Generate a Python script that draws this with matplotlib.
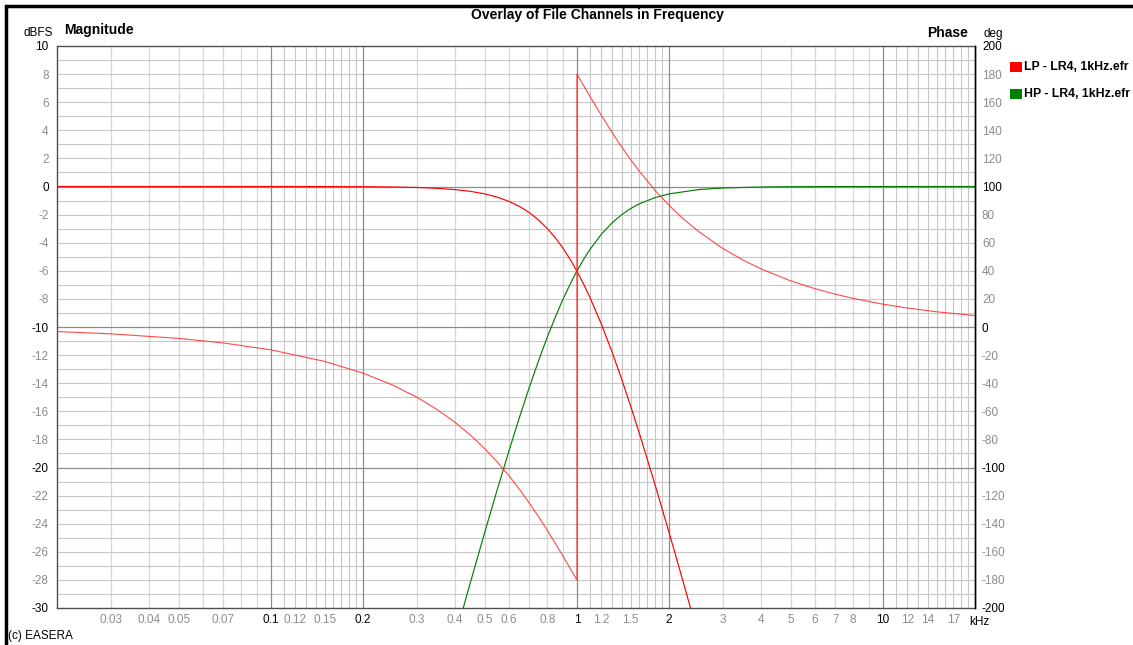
import matplotlib
matplotlib.use("Agg")
import matplotlib.pyplot as plt
from matplotlib.patches import Rectangle

plt.rcParams['font.family'] = ['Liberation Sans', 'DejaVu Sans']

# ---- data (frequency in kHz) ----
freq_lp = [0.02, 0.05, 0.1, 0.15, 0.2, 0.25, 0.3, 0.35, 0.4, 0.45, 0.5, 0.55,
           0.6, 0.65, 0.7, 0.75, 0.8, 0.85, 0.9, 0.95, 1.0, 1.05, 1.1, 1.2,
           1.3, 1.4, 1.5, 1.6, 1.8, 2.0, 2.2, 2.5]
mag_lp = [0.0, 0.0, 0.0, -0.004, -0.014, -0.034, -0.070, -0.129, -0.220, -0.349,
          -0.527, -0.761, -1.061, -1.426, -1.868, -2.387, -2.984, -3.648,
          -4.381, -5.176, -6.021, -6.910, -7.833, -9.753, -11.724, -13.700,
          -15.652, -17.562, -21.214, -24.609, -27.757, -32.05]

freq_hp = [0.4, 0.45, 0.5, 0.55, 0.6, 0.65, 0.7, 0.75, 0.8, 0.85, 0.9, 0.95,
           1.0, 1.05, 1.1, 1.2, 1.3, 1.4, 1.5, 1.6, 1.8, 2.0, 2.5, 3.0, 4.0,
           5.0, 6.0, 8.0, 20.0]
mag_hp = [-32.05, -28.09, -24.609, -21.53, -18.81, -16.39, -14.26, -12.38,
          -10.73, -9.30, -8.04, -6.96, -6.021, -5.214, -4.522, -3.419, -2.607,
          -2.010, -1.566, -1.233, -0.791, -0.527, -0.220, -0.106, -0.034,
          -0.014, -0.007, -0.002, 0.0]

freq_phase = [0.02, 0.03, 0.05, 0.07, 0.1, 0.15, 0.2, 0.25, 0.3, 0.35, 0.4,
              0.45, 0.5, 0.55, 0.6, 0.65, 0.7, 0.75, 0.8, 0.85, 0.9, 0.95,
              1.0, 1.0, 1.05, 1.1, 1.2, 1.3, 1.4, 1.5, 1.6, 1.8, 2.0, 2.2,
              2.5, 3.0, 3.5, 4.0, 5.0, 6.0, 7.0, 8.0, 10.0, 12.0, 15.0, 20.0]
phase_lp = [-3.24, -4.86, -8.11, -11.36, -16.26, -24.49, -32.83, -41.32,
            -50.00, -58.85, -67.92, -77.17, -86.63, -96.24, -105.94, -115.71,
            -125.49, -135.17, -144.70, -154.00, -163.02, -171.70, -180.0,
            180.0, 172.10, 164.62, 150.93, 138.86, 128.25, 118.98, 110.83,
            97.30, 86.63, 78.02, 67.92, 55.88, 47.50, 41.32, 32.83, 27.26,
            23.31, 20.36, 16.26, 13.54, 10.82, 8.11]

x_ticks = [0.03, 0.04, 0.05, 0.07, 0.1, 0.12, 0.15, 0.2, 0.3, 0.4, 0.5, 0.6,
           0.8, 1, 1.2, 1.5, 2, 3, 4, 5, 6, 7, 8, 10, 12, 14, 17]
x_tick_labels = ['0.03', '0.04', '0.05', '0.07', '0.1', '0.12', '0.15', '0.2',
                 '0.3', '0.4', '0.5', '0.6', '0.8', '1', '1.2', '1.5', '2', '3',
                 '4', '5', '6', '7', '8', '10', '12', '14', '17']
x_major = [0.1, 0.2, 1, 2, 10]
mag_ticks = list(range(-30, 11, 2))
phase_ticks = list(range(-200, 201, 20))

series_names = ['LP - LR4, 1kHz.efr', 'HP - LR4, 1kHz.efr']
series_colors = ['#ff0000', '#008000']

# ---- figure ----
W, H = 1133, 645
fig = plt.figure(figsize=(W / 100, H / 100), dpi=100)
fig.patch.set_facecolor('white')

def fx(px):
    return px / W

def fy(py):
    return 1 - py / H

L, R, T, B = 57, 975, 46, 608
ax = fig.add_axes([fx(L), fy(B), fx(R - L), fy(T) - fy(B)])
ax.set_xscale('log')
ax.set_xlim(0.02, 20)
ax.set_ylim(-30, 10)

# grid lines
light = '#d6d6d6'
mid = '#c8c8c8'
dark = '#8c8c8c'
for dec in [0.01, 0.1, 1, 10]:
    for m in range(2, 10):
        f = m * dec
        if 0.02 < f < 20 and round(f, 6) not in [round(v, 6) for v in x_major]:
            ax.axvline(f, color=light, lw=0.9, zorder=0)
    for k in range(11, 20):
        f = k / 10 * dec
        if 0.02 < f < 20:
            ax.axvline(f, color=mid, lw=0.8, zorder=0)
for f in x_major:
    ax.axvline(f, color=dark, lw=0.9, zorder=0.5)
for v in range(-29, 10):
    if v in (0, -10, -20):
        ax.axhline(v, color=dark, lw=0.9, zorder=0.5)
    else:
        ax.axhline(v, color=mid, lw=0.8, zorder=0)

# magnitude curves
ax.plot(freq_lp, mag_lp, color=series_colors[0], lw=0.85, zorder=3)
ax.plot(freq_hp, mag_hp, color=series_colors[1], lw=0.85, zorder=2)

# phase on the right scale
axp = ax.twinx()
axp.set_ylim(-200, 200)
axp.plot(freq_phase, phase_lp, color='#ff2a2a', lw=0.8, alpha=0.85, zorder=3)

# axes styling
for a in (ax, axp):
    a.tick_params(length=0)
    a.minorticks_off()
ax.xaxis.set_minor_locator(matplotlib.ticker.NullLocator())
axp.xaxis.set_minor_locator(matplotlib.ticker.NullLocator())
ax.set_xticks(x_ticks)
ax.set_xticklabels(x_tick_labels, fontsize=8.5)
for lbl, v in zip(ax.get_xticklabels(), x_ticks):
    lbl.set_color('black' if v in x_major else '#8c8c8c')
ax.tick_params(axis='x', pad=4)

ax.set_yticks(mag_ticks)
ax.set_yticklabels([str(v) for v in mag_ticks], fontsize=8.5)
for lbl, v in zip(ax.get_yticklabels(), mag_ticks):
    lbl.set_color('black' if v % 10 == 0 else '#8c8c8c')
ax.tick_params(axis='y', pad=6)

axp.set_yticks(phase_ticks)
axp.set_yticklabels([str(v) for v in phase_ticks], fontsize=8.5)
for lbl, v in zip(axp.get_yticklabels(), phase_ticks):
    lbl.set_color('black' if v % 100 == 0 else '#8c8c8c')
axp.tick_params(axis='y', pad=5)

ax.spines['left'].set_color('#505050')
ax.spines['bottom'].set_color('#505050')
ax.spines['top'].set_color('#505050')
axp.spines['right'].set_color('black')
for s in axp.spines.values():
    s.set_linewidth(1.0)
for s in ax.spines.values():
    s.set_linewidth(1.0)
axp.spines['left'].set_visible(False)
axp.spines['top'].set_visible(False)
axp.spines['bottom'].set_visible(False)

# text around the plot
fig.text(0.527, fy(15), 'Overlay of File Channels in Frequency', ha='center',
         va='center', fontsize=10, fontweight='bold')
fig.text(fx(64), fy(30), 'Magnitude', ha='left', va='center', fontsize=10,
         fontweight='bold')
fig.text(fx(53), fy(33), 'dBFS', ha='right', va='center', fontsize=8.5)
fig.text(fx(968), fy(33), 'Phase', ha='right', va='center', fontsize=10,
         fontweight='bold')
fig.text(fx(984), fy(34), 'deg', ha='left', va='center', fontsize=8.5)
fig.text(fx(969), fy(622), 'kHz', ha='left', va='center', fontsize=8.5)
fig.text(fx(8), fy(636), '(c) EASERA', ha='left', va='center', fontsize=8.5)

# legend
for i, (name, col) in enumerate(zip(series_names, series_colors)):
    ypx = 67 + i * 27
    fig.patches.append(Rectangle((fx(1010), fy(ypx + 5)), fx(12), fy(ypx - 5) - fy(ypx + 5),
                                 transform=fig.transFigure, color=col, lw=0))
    fig.text(fx(1024), fy(ypx), name, ha='left', va='center', fontsize=8.8,
             fontweight='bold')

# outer frame
fig.patches.append(Rectangle((fx(6), fy(H + 10)), fx(W + 10), fy(6) - fy(H + 10),
                             transform=fig.transFigure, fill=False,
                             edgecolor='black', lw=2.5))

fig.savefig('out.png', dpi=100, facecolor='white')
